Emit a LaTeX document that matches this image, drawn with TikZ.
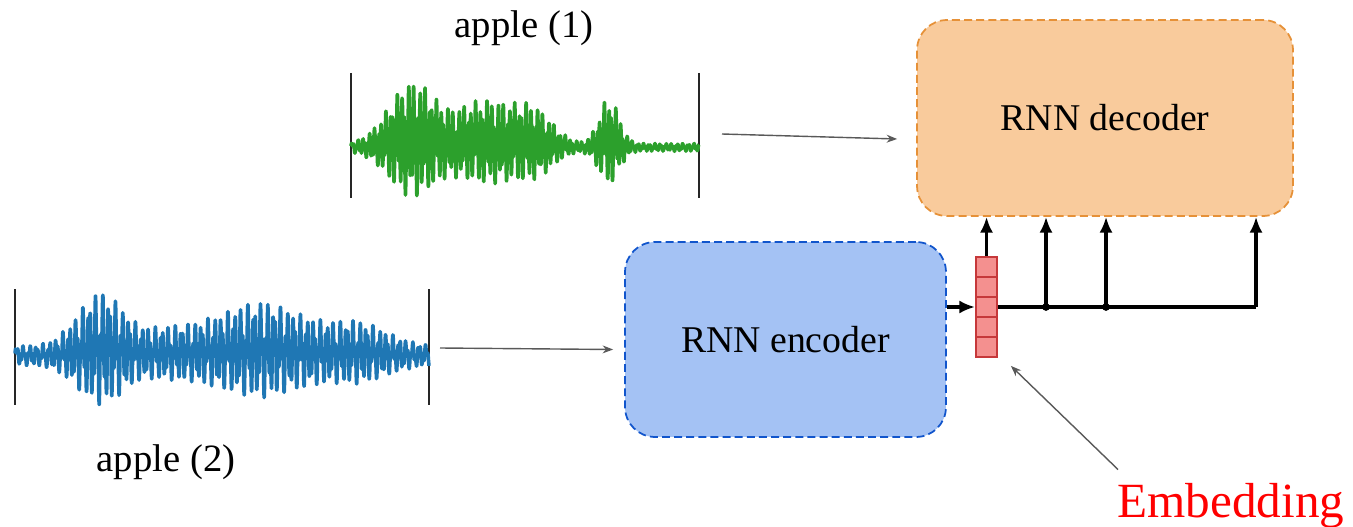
\documentclass[tikz,border=0pt]{standalone}
\usepackage{fontspec}
\setmainfont{Liberation Serif}
\usetikzlibrary{arrows.meta,positioning}
\definecolor{decfill}{HTML}{F9CB9C}
\definecolor{decline}{HTML}{E69138}
\definecolor{encfill}{HTML}{A4C2F4}
\definecolor{encline}{HTML}{1155CC}
\definecolor{cellfill}{HTML}{F4908F}
\definecolor{cellline}{HTML}{C6383A}
\definecolor{linkgray}{HTML}{595959}
\definecolor{wavegreen}{HTML}{2CA02C}
\definecolor{waveblue}{HTML}{1F77B4}
\definecolor{embred}{HTML}{FF0000}

\begin{document}
\begin{tikzpicture}[x=0.02cm, y=-0.02cm,
	block/.style={rounded corners=0.6cm, line width=1pt, dash pattern=on 4.5pt off 2.4pt,
		font=\fontsize{21.5}{26}\selectfont},
	cell/.style={draw=cellline, fill=cellfill, line width=1pt,
		minimum width=0.42cm, minimum height=0.4cm, inner sep=0pt},
	emb/.style={-{Latex[length=9pt,width=7.5pt]}, line width=1.8pt},
	link/.style={-{Stealth[length=6pt,width=4.5pt]}, line width=0.8pt, draw=linkgray},
	wave/.style={line width=2pt, line join=round},
	bar/.style={line width=1.3pt, draw=black!85},
	lbl/.style={font=\fontsize{22}{26}\selectfont}
]
	\useasboundingbox (0,0) rectangle (1353,527);

	% Blocks
	\node[block, draw=decline, fill=decfill, minimum width=7.52cm, minimum height=3.92cm]
		(dec) at (1105,118) {RNN decoder};
	\node[block, draw=encline, fill=encfill, minimum width=6.42cm, minimum height=3.9cm]
		(enc) at (785.5,339.5) {RNN encoder};

	% Embedding vector
	\foreach \i in {0,...,4}
		\node[cell] (c\i) at (986.5, 267+20*\i) {};

	% Waveform apple (1)
	\node[lbl] (lab1) at (524,28) {apple (1)};
	\draw[bar] (351,73) -- (351,198);
	\draw[bar] (699,73) -- (699,198);
	\draw[wave, wavegreen] plot[domain=0:348, samples=800, smooth=false]
		({351+\x}, {148 - (4 + 52*exp(-min(((\x-60)/32)*((\x-60)/32),20))
			+ 38*exp(-min(((\x-135)/45)*((\x-135)/45),20))
			+ 22*exp(-min(((\x-185)/25)*((\x-185)/25),20))
			+ 40*exp(-min(((\x-258)/14)*((\x-258)/14),20)))
			*(0.6*sin(360*mod(\x,5.6)/5.6) + 0.4*sin(360*mod(\x,2.3)/2.3+30) + 0.15)});
	\coordinate (w1) at (722,134);

	% Waveform apple (2)
	\node[lbl] (lab2) at (166,462) {apple (2)};
	\draw[bar] (15,289) -- (15,405);
	\draw[bar] (429,289) -- (429,405);
	\draw[wave, waveblue] plot[domain=0:414, samples=900, smooth=false]
		({15+\x}, {357 - (10 + 46*exp(-min(((\x-85)/32)*((\x-85)/32),20))
			+ 12*exp(-min(((\x-150)/40)*((\x-150)/40),20))
			+ 38*exp(-min(((\x-245)/65)*((\x-245)/65),20))
			+ 18*exp(-min(((\x-345)/40)*((\x-345)/40),20)))
			*(0.6*sin(360*mod(\x,6.6)/6.6) + 0.4*sin(360*mod(\x,2.5)/2.5+30) + 0.15)});
	\coordinate (w2) at (440,348);

	% Inputs
	\draw[link] (w1) -- ([shift={(-19,21)}]dec.west);
	\draw[link] (w2) -- ([shift={(-11,10)}]enc.west);

	% Encoder to embedding, embedding to decoder
	\draw[emb] (enc.east |- c2.west) -- (c2.west);
	\draw[emb] (c0.north) -- (c0.north |- dec.south);
	\coordinate (j1) at (1046,307);
	\coordinate (j2) at (1106,307);
	\coordinate (j3) at (1256,307);
	\draw[line width=1.8pt] (c2.east) -- (j3);
	\foreach \j in {j1,j2,j3}
		\draw[emb] (\j) -- (\j |- dec.south);
	\fill (j1) circle (2.2pt) (j2) circle (2.2pt);

	% Label
	\node[anchor=base west, inner sep=0pt, text=embred, font=\fontsize{28}{32}\selectfont]
		(embl) at (1117,517) {Embedding};
	\draw[link] ([shift={(1,-13)}]embl.north west) -- ([shift={(13,8)}]c4.south east);
\end{tikzpicture}
\end{document}
